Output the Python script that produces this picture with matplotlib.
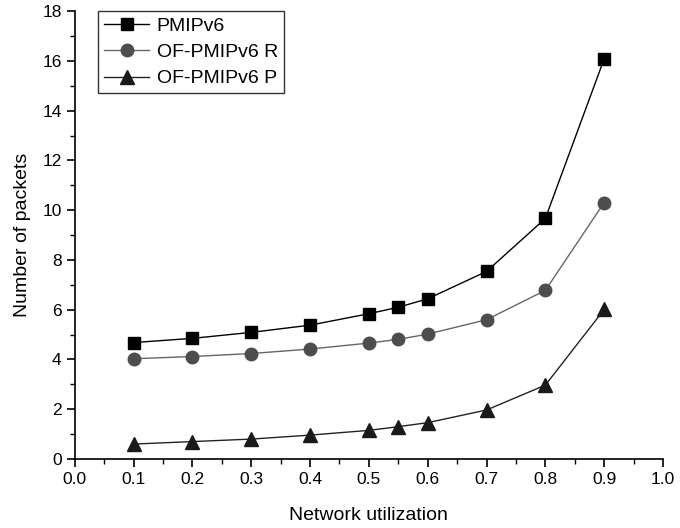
import numpy as np
import matplotlib.pyplot as plt
from matplotlib.ticker import MultipleLocator

plt.rcParams['font.family'] = ['Liberation Sans', 'DejaVu Sans']

utilization = [0.1, 0.2, 0.3, 0.4, 0.5, 0.55, 0.6, 0.7, 0.8, 0.9]
pmipv6 = [4.68, 4.85, 5.09, 5.38, 5.84, 6.1, 6.44, 7.54, 9.67, 16.09]
of_pmipv6_r = [4.03, 4.12, 4.24, 4.42, 4.66, 4.81, 5.02, 5.6, 6.78, 10.31]
of_pmipv6_p = [0.6, 0.7, 0.8, 0.96, 1.15, 1.3, 1.46, 1.97, 2.97, 6.01]

fig = plt.figure(figsize=(6.8, 5.28), dpi=100)
ax = fig.add_axes([0.110, 0.1307, 0.865, 0.848])

ax.plot(utilization, pmipv6, color='black', lw=1.0, marker='s', ms=8,
        mfc='black', mec='black', label='PMIPv6')
ax.plot(utilization, of_pmipv6_r, color='#666666', lw=1.0, marker='o', ms=9,
        mfc='#4d4d4d', mec='#4d4d4d', label='OF-PMIPv6 R')
ax.plot(utilization, of_pmipv6_p, color='#222222', lw=1.0, marker='^', ms=10,
        mfc='#1a1a1a', mec='#1a1a1a', label='OF-PMIPv6 P')

ax.set_xlim(0, 1.0)
ax.set_ylim(0, 18)
ax.xaxis.set_major_locator(MultipleLocator(0.1))
ax.xaxis.set_minor_locator(MultipleLocator(0.05))
ax.yaxis.set_major_locator(MultipleLocator(2))
ax.yaxis.set_minor_locator(MultipleLocator(1))
ax.xaxis.set_major_formatter(plt.FormatStrFormatter('%.1f'))

for s in ['top', 'right']:
    ax.spines[s].set_visible(False)
for s in ['left', 'bottom']:
    ax.spines[s].set_linewidth(1.2)
ax.tick_params(which='major', direction='out', length=6, width=1.2, labelsize=12.5)
ax.tick_params(which='minor', direction='out', length=3.5, width=1.0)

ax.set_xlabel('Network utilization', fontsize=14, labelpad=14)
ax.set_ylabel('Number of packets', fontsize=14, labelpad=8)

leg = ax.legend(loc='upper left', bbox_to_anchor=(0.04, 1.0), fontsize=14,
                frameon=True, fancybox=False, edgecolor='black',
                handlelength=2.3, borderpad=0.3, labelspacing=0.45,
                handletextpad=0.4, borderaxespad=0.0)
leg.get_frame().set_linewidth(1.0)

plt.savefig('out.png', dpi=100)
